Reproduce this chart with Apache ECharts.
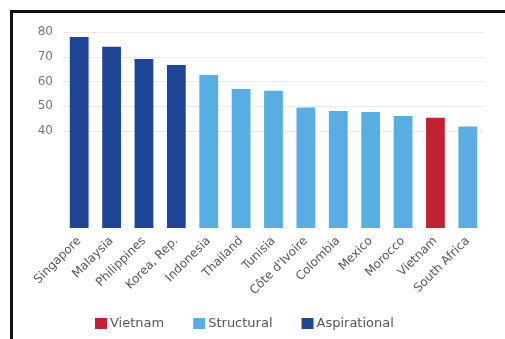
<!DOCTYPE html>
<html>
<head>
<meta charset="utf-8">
<script src="https://cdn.jsdelivr.net/npm/echarts@6/dist/echarts.min.js"></script>
<style>
  html, body { margin: 0; padding: 0; background: #fff; }
  .frame {
    position: absolute; left: 10px; top: 10px; right: 0; bottom: 0;
    border-left: 3px solid #111; border-top: 3px solid #111;
  }
  #chart { position: absolute; left: 0; top: 0; width: 505px; height: 339px; }
</style>
</head>
<body>
<div class="frame"></div>
<div id="chart"></div>
<script>
const categories = ['Singapore', 'Malaysia', 'Philippines', 'Korea, Rep.', 'Indonesia', 'Thailand',
  'Tunisia', "Côte d'Ivoire", 'Colombia', 'Mexico', 'Morocco', 'Vietnam', 'South Africa'];
const values = [78, 74, 69, 66.5, 62.5, 56.7, 56, 49.2, 47.8, 47.3, 45.7, 45, 41.4];
const groups = ['Aspirational', 'Aspirational', 'Aspirational', 'Aspirational', 'Structural', 'Structural',
  'Structural', 'Structural', 'Structural', 'Structural', 'Structural', 'Vietnam', 'Structural'];
const legendNames = ['Vietnam', 'Structural', 'Aspirational'];
const tickLabels = [40, 50, 60, 70, 80];

const colors = { Vietnam: '#c0232f', Structural: '#58aee2', Aspirational: '#1d4696' };

const myChart = echarts.init(document.getElementById('chart'));

const series = legendNames.map(name => ({
  name,
  type: 'bar',
  stack: 'all',
  barCategoryGap: '42%',
  itemStyle: { color: colors[name] },
  data: values.map((v, i) => groups[i] === name ? v : '-')
}));

myChart.setOption({
  animation: false,
  textStyle: { fontFamily: 'DejaVu Sans' },
  grid: [
    { left: 63, right: 21, top: 32, bottom: 111 },
    // gridlines and labels only from 40 up
    { left: 63, right: 21, top: 32, bottom: 208 }
  ],
  legend: {
    data: legendNames,
    left: 90,
    top: 312,
    itemWidth: 12,
    itemHeight: 11,
    itemGap: 29,
    icon: 'rect',
    textStyle: { color: '#555', fontSize: 13, padding: [0, 0, 0, -2] }
  },
  xAxis: [{
    type: 'category',
    gridIndex: 0,
    data: categories,
    axisLine: { show: false },
    axisTick: { show: false },
    axisLabel: {
      interval: 0,
      rotate: 45,
      fontSize: 12,
      color: '#555',
      margin: 11
    }
  }, {
    type: 'category',
    gridIndex: 1,
    data: categories,
    show: false
  }],
  yAxis: [{
    type: 'value',
    gridIndex: 0,
    min: 0,
    max: 80,
    show: false
  }, {
    type: 'value',
    gridIndex: 1,
    min: tickLabels[0],
    max: tickLabels[tickLabels.length - 1],
    interval: 10,
    axisLine: { show: false },
    axisTick: { show: false },
    splitLine: { lineStyle: { color: '#ebebeb', width: 1 } },
    axisLabel: { color: '#777', fontSize: 12, margin: 10 }
  }],
  series: series.map(s => Object.assign(s, { xAxisIndex: 0, yAxisIndex: 0, z: 3 }))
});
</script>
</body>
</html>
